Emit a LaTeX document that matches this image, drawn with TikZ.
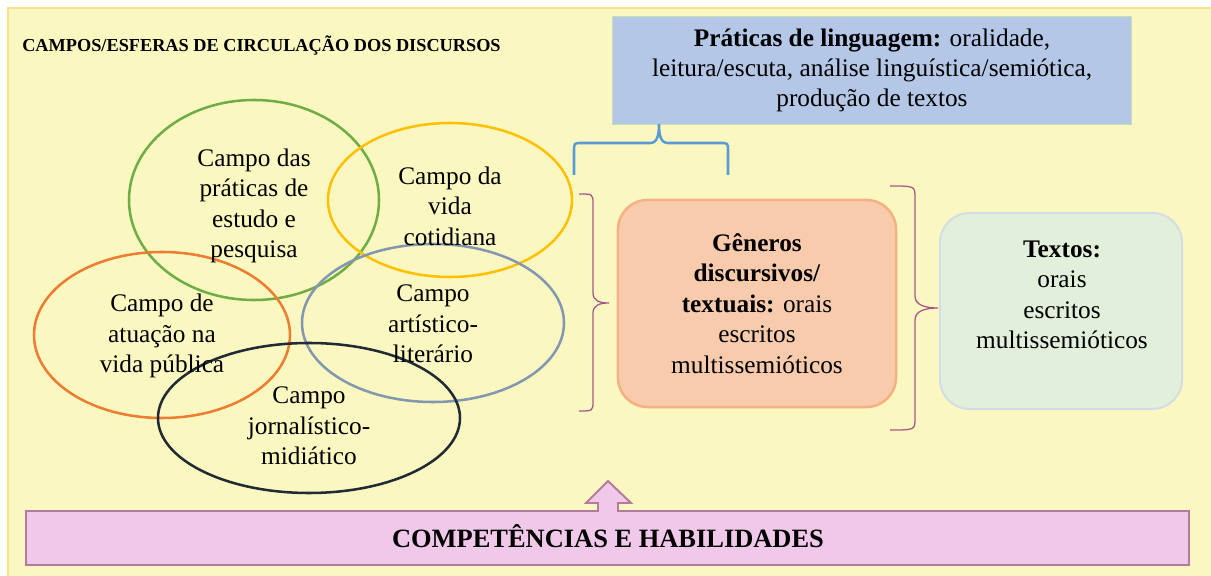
\documentclass[tikz,border=0pt]{standalone}
\usepackage{fontspec}
\setmainfont{Liberation Serif}
\usetikzlibrary{positioning}
\definecolor{fundo}{HTML}{FAF8C0}
\definecolor{borda}{HTML}{FCE08E}
\definecolor{verde}{HTML}{70AD47}
\definecolor{amarelo}{HTML}{FFC000}
\definecolor{laranja}{HTML}{ED7D31}
\definecolor{cinzaazul}{HTML}{8497B0}
\definecolor{marinho}{HTML}{222A35}
\definecolor{azulcaixa}{HTML}{B4C7E7}
\definecolor{azulborda}{HTML}{C5E0B4}
\definecolor{azulchave}{HTML}{5B9BD5}
\definecolor{roxochave}{HTML}{A5578A}
\definecolor{salmao}{HTML}{F8CBAD}
\definecolor{salmaoborda}{HTML}{F4B183}
\definecolor{verdeclaro}{HTML}{E2EFDA}
\definecolor{cinzaborda}{HTML}{D6DCE5}
\definecolor{rosa}{HTML}{F0C8E9}
\definecolor{rosaborda}{HTML}{B47C9C}
\tikzset{
  campo/.style={line width=1.8pt},
  rotulo/.style={align=center, inner sep=0pt, font=\fontsize{18}{21.6}\selectfont},
  caixa/.style={rounded corners=21pt, inner sep=0pt, align=center,
    font=\fontsize{18}{21.6}\selectfont},
  chave/.style={line width=0.9pt, draw=roxochave}
}
\begin{document}
\begin{tikzpicture}[x=0.025cm, y=-0.025cm]
\useasboundingbox (0,0) rectangle (1211,576);
\draw[line width=2pt, draw=borda, fill=fundo] (8,8) rectangle (1213,578);

\node[anchor=base west, inner sep=0pt, font=\fontsize{13}{15}\selectfont\bfseries] (titulo) at (22,52)
  {CAMPOS/ESFERAS DE CIRCULAÇÃO DOS DISCURSOS};

% campos
\coordinate (estudo) at (254,200);
\coordinate (cotidiana) at (450,200);
\coordinate (publica) at (162,335);
\coordinate (literario) at (433,323);
\coordinate (midiatico) at (309,418);
\draw[campo, verde] (estudo) ellipse [x radius=125, y radius=100];
\draw[campo, amarelo] (cotidiana) ellipse [x radius=122, y radius=77];
\draw[campo, laranja] (publica) ellipse [x radius=128, y radius=83];
\draw[campo, cinzaazul] (literario) ellipse [x radius=131, y radius=79];
\draw[campo, marinho] (midiatico) ellipse [x radius=151, y radius=75];
\node[rotulo] (estudo-txt) at (254,206) {Campo das\\práticas de\\estudo e\\pesquisa};
\node[rotulo] (cotidiana-txt) at (450,206) {Campo da\\vida\\cotidiana};
\node[rotulo] (publica-txt) at (162,336) {Campo de\\atuação na\\vida pública};
\node[rotulo] (literario-txt) at (433,324) {Campo\\artístico-\\literário};
\node[rotulo] (midiatico-txt) at (309,426) {Campo\\jornalístico-\\midiático};

% caixas
\node[draw=azulborda, line width=0.7pt, fill=azulcaixa, inner sep=0pt, align=center,
  font=\fontsize{18}{21.6}\selectfont, minimum width=12.95cm, minimum height=2.675cm]
  (linguagem) at (872,70.5)
  {\textbf{Práticas de linguagem:} oralidade,\\leitura/escuta, análise linguística/semiótica,\\produção de textos};
\node[caixa, draw=salmaoborda, line width=1.8pt, fill=salmao, minimum width=6.95cm, minimum height=5.175cm]
  (generos) at (757,303.5)
  {\textbf{Gêneros}\\\textbf{discursivos/}\\\textbf{textuais:} orais\\escritos\\multissemióticos};
\node[caixa, draw=cinzaborda, line width=1.4pt, fill=verdeclaro, minimum width=6.05cm, minimum height=4.9cm]
  (textos) at (1061,311) {};
\node[rotulo] (textos-txt) at (1062,295) {\textbf{Textos:}\\orais\\escritos\\multissemióticos};

% chaves
\draw[line width=1.8pt, azulchave] (574,175) -- (574,151) .. controls (574,143) .. (582,143) -- (650,143)
  .. controls (657,143) and (659,136) .. (659,124) .. controls (659,136) and (661,143) .. (668,143)
  -- (720,143) .. controls (728,143) .. (728,151) -- (728,175);
\draw[chave] (579,194) .. controls (593,194) .. (593,204) -- (593,293)
  .. controls (593,301) and (600,303) .. (609,303) .. controls (600,303) and (593,305) .. (593,313)
  -- (593,401) .. controls (593,411) .. (579,411);
\draw[chave] (890,186) .. controls (915,186) .. (915,198) -- (915,296)
  .. controls (915,305) and (925,308) .. (938,308) .. controls (925,308) and (915,311) .. (915,320)
  -- (915,418) .. controls (915,430) .. (890,430);

% competencias
\draw[line width=1.4pt, draw=rosaborda, fill=rosa] (26,511) -- (598,511) -- (598,503) -- (586,503)
  -- (608,481) -- (631,503) -- (618,503) -- (618,511) -- (1189,511) -- (1189,565) -- (26,565) -- cycle;
\node[anchor=base, inner sep=0pt, font=\fontsize{18.8}{22}\selectfont\bfseries] (competencias) at (608,547)
  {COMPETÊNCIAS E HABILIDADES};
\end{tikzpicture}
\end{document}
